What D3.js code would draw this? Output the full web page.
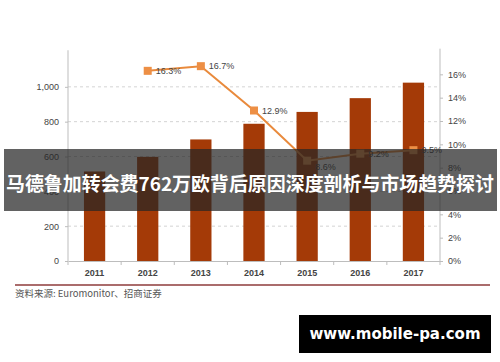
<!DOCTYPE html>
<html lang="zh">
<head>
<meta charset="UTF-8">
<title>市场规模与增速</title>
<script src="https://cdnjs.cloudflare.com/ajax/libs/d3/7.9.0/d3.min.js"></script>
<style>
  body { margin: 0; background: #fff; }
  svg { display: block; font-family: "Liberation Sans", "Noto Sans", sans-serif; }
</style>
</head>
<body>
<svg width="500" height="362"></svg>
<script>
// Data
let years = ["2011", "2012", "2013", "2014", "2015", "2016", "2017"];
let sales = [514, 598, 698, 788, 856, 935, 1024];
let growth = [null, 16.3, 16.7, 12.9, 8.6, 9.2, 9.5];
let leftTicks = [0, 200, 400, 600, 800, 1000];
let rightTicks = [0, 2, 4, 6, 8, 10, 12, 14, 16];
let title = "马德鲁加转会费762万欧背后原因深度剖析与市场趋势探讨";
let source = "资料来源: Euromonitor、招商证券";
let watermark = "www.mobile-pa.com";

let svg = d3.select("svg");

let x = d3.scaleBand().domain(years).range([68, 440]).paddingInner(0.6).paddingOuter(0.3);
let yLeft = d3.scaleLinear().domain([0, 1200]).range([261, 52]);
let yRight = d3.scaleLinear().domain([0, 18]).range([261, 51]);

// dashed gridlines
svg.append("g").selectAll("line").data(leftTicks.slice(1)).join("line")
    .attr("x1", 68).attr("x2", 440)
    .attr("y1", d => yLeft(d)).attr("y2", d => yLeft(d))
    .attr("stroke", "#d4d4d4").attr("stroke-dasharray", "3,3");

// left axis
let leftAxis = svg.append("g").attr("transform", "translate(68,0)")
    .call(d3.axisLeft(yLeft).tickValues(leftTicks).tickSize(3).tickFormat(d3.format(",")));
leftAxis.select(".domain").attr("d", "M0," + yLeft(1210) + "V" + yLeft(0)).attr("stroke", "#bdbdbd");
leftAxis.selectAll(".tick line").attr("stroke", "#bdbdbd");
leftAxis.selectAll("text").attr("fill", "#444").attr("font-size", 9).attr("x", -9);

// right axis
let rightAxis = svg.append("g").attr("transform", "translate(440,0)")
    .call(d3.axisRight(yRight).tickValues(rightTicks).tickSize(3).tickFormat(d => d + "%"));
rightAxis.select(".domain").attr("d", "M0," + yRight(18.2) + "V" + yRight(0)).attr("stroke", "#bdbdbd");
rightAxis.selectAll(".tick line").attr("stroke", "#bdbdbd");
rightAxis.selectAll("text").attr("fill", "#444").attr("font-size", 9).attr("x", 8);

// bars
svg.append("g").selectAll("rect").data(years).join("rect")
    .attr("x", d => x(d))
    .attr("width", x.bandwidth())
    .attr("y", (d, i) => yLeft(sales[i]))
    .attr("height", (d, i) => yLeft(0) - yLeft(sales[i]))
    .attr("fill", "#a43a07");

// bottom axis
let bottomAxis = svg.append("g").attr("transform", "translate(0,261)")
    .call(d3.axisBottom(x).tickSize(0).tickPadding(9));
bottomAxis.select(".domain").attr("stroke", "#bdbdbd");
bottomAxis.selectAll("text").attr("fill", "#444").attr("font-size", 9).attr("font-weight", "bold");
svg.append("g").selectAll("line").data(d3.range(years.length + 1)).join("line")
    .attr("x1", i => 68 + i * x.step()).attr("x2", i => 68 + i * x.step())
    .attr("y1", 261).attr("y2", 265)
    .attr("stroke", "#bdbdbd");

// growth line
let pts = years.map((d, i) => ({ year: d, g: growth[i] })).filter(d => d.g !== null);
let cx = d => x(d.year) + x.bandwidth() / 2;
svg.append("path").datum(pts)
    .attr("d", d3.line().x(cx).y(d => yRight(d.g)))
    .attr("fill", "none").attr("stroke", "#e98a3c").attr("stroke-width", 2);
svg.append("g").selectAll("rect").data(pts).join("rect")
    .attr("x", d => cx(d) - 4).attr("y", d => yRight(d.g) - 4)
    .attr("width", 8).attr("height", 8)
    .attr("fill", "#ed8f45");
svg.append("g").selectAll("text").data(pts).join("text")
    .attr("x", d => cx(d) + 8)
    .attr("y", d => yRight(d.g) + (d.g < 9 ? 6 : 0))
    .attr("dominant-baseline", "central")
    .attr("font-size", 9).attr("fill", "#444")
    .text(d => d.g.toFixed(1) + "%");

// source line and text
svg.append("line").attr("x1", 15).attr("x2", 490).attr("y1", 285).attr("y2", 285)
    .attr("stroke", "#8e3b3b").attr("stroke-width", 1.5);
svg.append("text").attr("x", 15).attr("y", 297)
    .attr("font-size", 9.5).attr("fill", "#555")
    .attr("font-family", "'Noto Sans CJK SC', sans-serif")
    .text(source);

// title overlay
svg.append("rect").attr("x", 4).attr("y", 149).attr("width", 493).attr("height", 62)
    .attr("fill", "rgba(38,38,38,0.72)");
svg.append("text").attr("x", 250).attr("y", 182)
    .attr("text-anchor", "middle").attr("dominant-baseline", "central")
    .attr("font-family", "'Noto Sans CJK SC', sans-serif")
    .attr("font-weight", "bold").attr("font-size", 19).attr("fill", "#fff")
    .attr("textLength", 488).attr("lengthAdjust", "spacingAndGlyphs")
    .text(title);

// watermark
svg.append("rect").attr("x", 299).attr("y", 315).attr("width", 192).attr("height", 38).attr("fill", "#000");
svg.append("text").attr("x", 395).attr("y", 334)
    .attr("text-anchor", "middle").attr("dominant-baseline", "central")
    .attr("font-family", "'DejaVu Sans', sans-serif")
    .attr("font-weight", "bold").attr("font-size", 15).attr("fill", "#fff")
    .text(watermark);
</script>
</body>
</html>
